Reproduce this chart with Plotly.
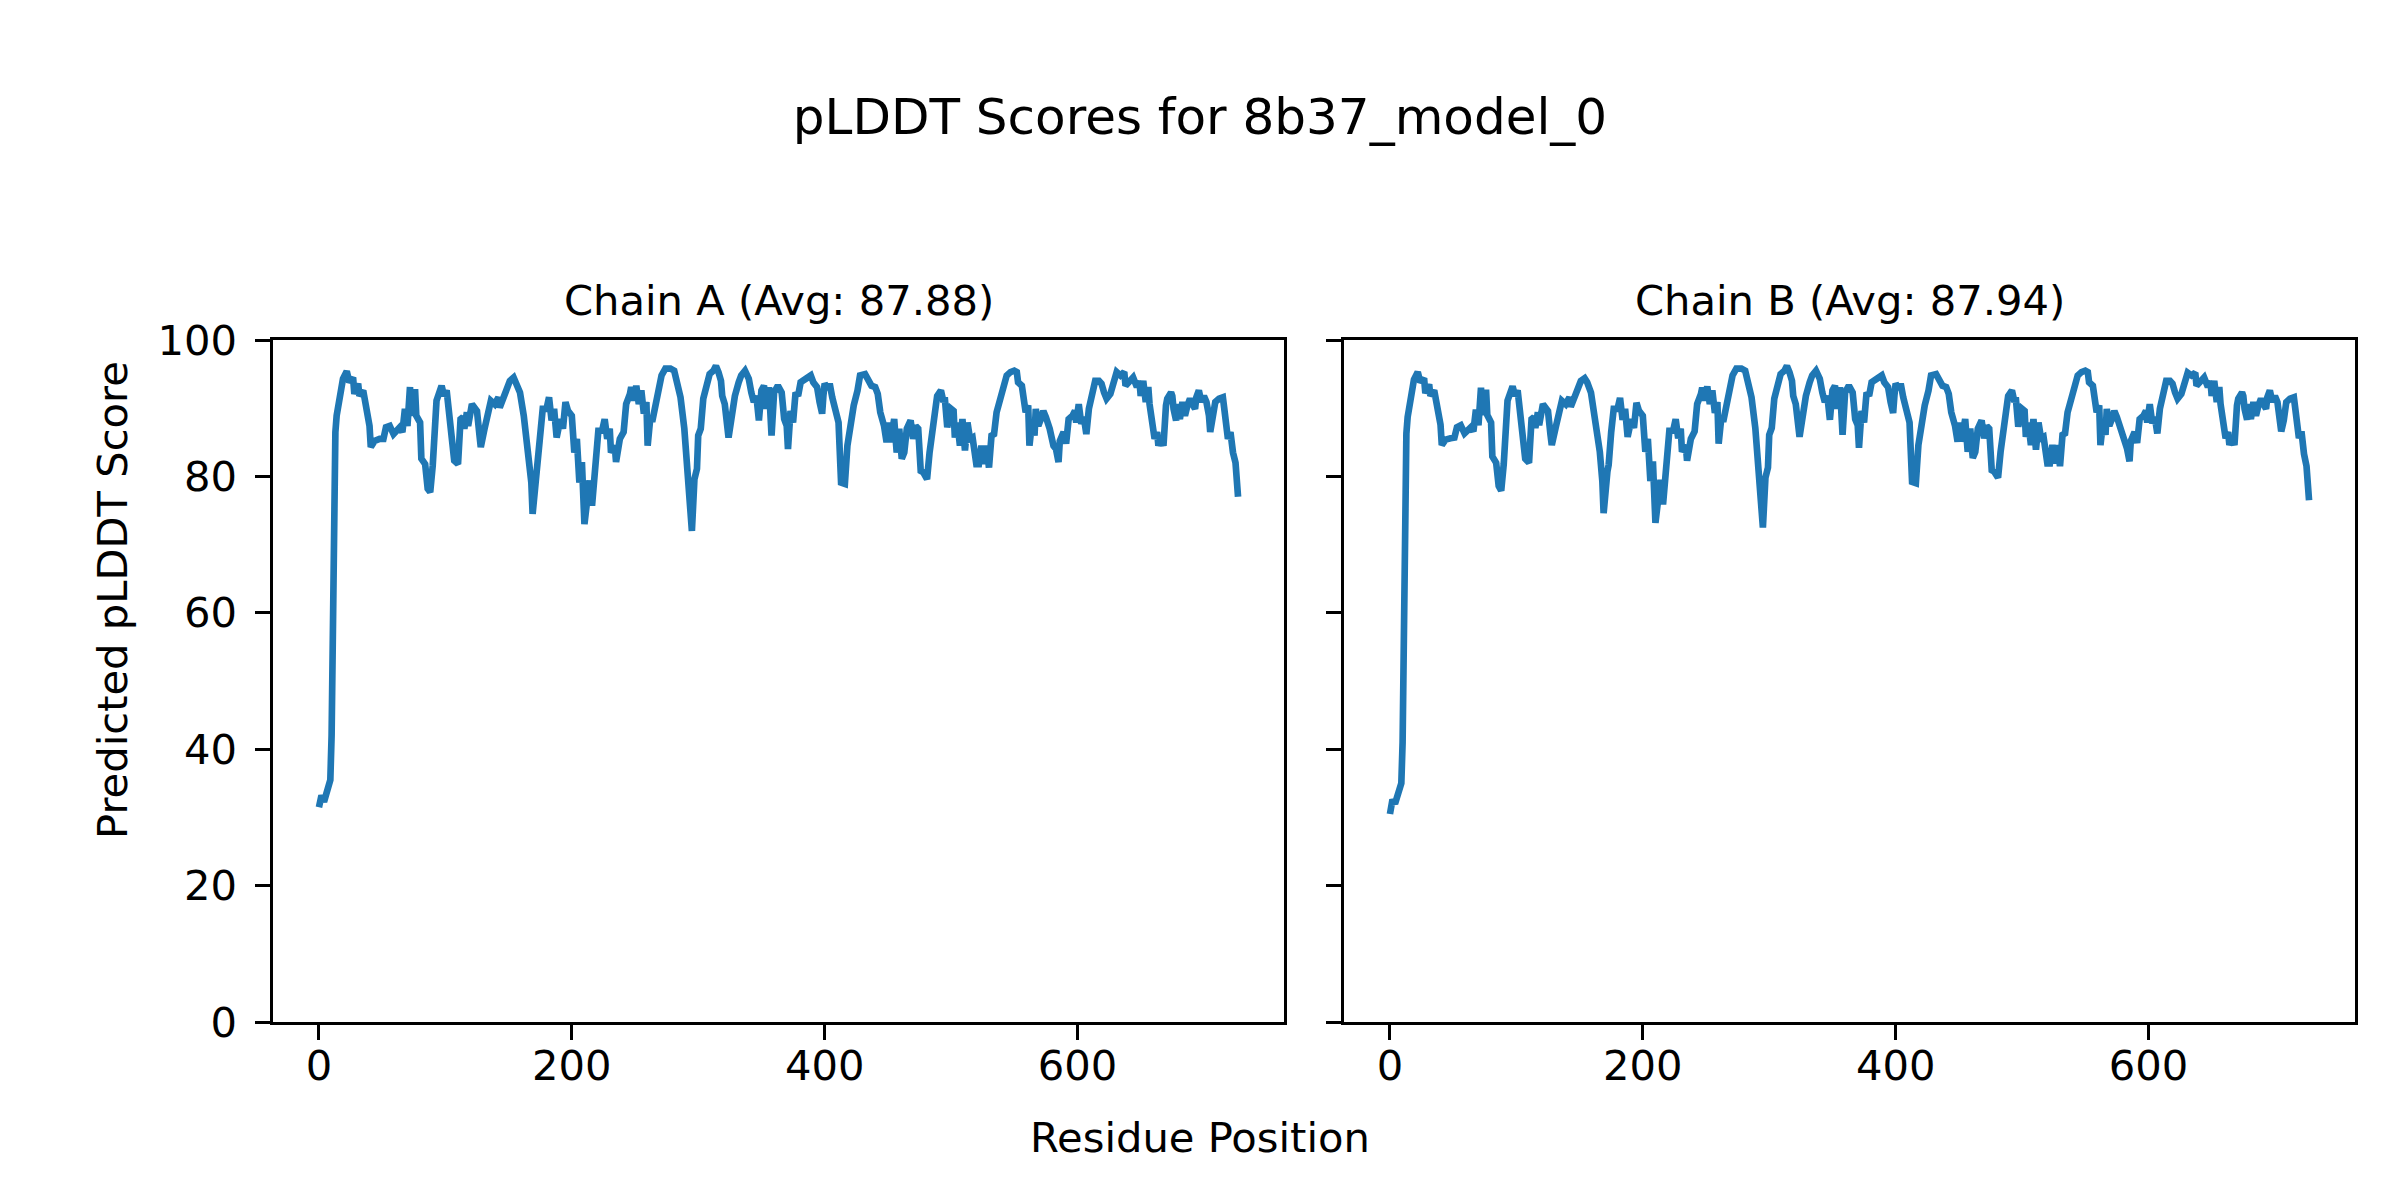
import plotly.graph_objects as go

# ---------------- data ----------------
chain_a_residue = [
    0, 2, 4, 7, 9, 10, 11, 12, 13, 14, 16, 19, 22, 24, 27, 28, 31, 32, 35, 37,
    40, 41, 44, 48, 51, 53, 56, 59, 61, 64, 66, 68, 70, 72, 73, 76, 77, 80, 81, 84,
    86, 88, 90, 92, 93, 97, 99, 101, 103, 106, 107, 110, 112, 114, 115, 117, 118, 121, 125, 127,
    128, 131, 134, 136, 139, 142, 143, 146, 149, 151, 154, 156, 159, 162, 164, 166, 168, 169, 172, 173,
    175, 177, 180, 182, 184, 186, 188, 191, 193, 195, 197, 200, 202, 204, 206, 208, 210, 212, 214, 216,
    218, 221, 224, 226, 228, 230, 231, 234, 235, 238, 241, 243, 246, 247, 249, 251, 253, 255, 257, 259,
    260, 262, 264, 267, 268, 271, 274, 278, 281, 283, 286, 289, 291, 293, 295, 297, 299, 300, 302, 304,
    307, 309, 312, 314, 316, 318, 319, 321, 324, 326, 329, 332, 334, 337, 340, 342, 344, 346, 348, 350,
    352, 354, 356, 358, 360, 363, 366, 368, 370, 371, 373, 375, 377, 379, 381, 385, 389, 391, 394, 396,
    398, 399, 400, 403, 404, 406, 408, 411, 413, 416, 418, 420, 423, 426, 428, 432, 435, 437, 440, 442,
    444, 447, 449, 451, 452, 455, 457, 459, 461, 463, 465, 468, 470, 472, 474, 476, 478, 481, 483, 485,
    487, 489, 492, 494, 495, 497, 500, 502, 503, 505, 507, 509, 511, 513, 515, 517, 520, 522, 524, 526,
    528, 530, 532, 534, 536, 538, 539, 542, 544, 547, 550, 552, 553, 556, 557, 559, 561, 562, 564, 566,
    567, 569, 571, 573, 575, 578, 581, 583, 585, 586, 589, 591, 593, 596, 598, 599, 601, 603, 605, 607,
    609, 612, 614, 617, 619, 621, 623, 626, 629, 631, 634, 637, 638, 641, 644, 647, 649, 650, 652, 654,
    656, 657, 659, 661, 663, 664, 666, 668, 670, 671, 674, 675, 676, 678, 679, 681, 683, 685, 687, 689,
    691, 693, 694, 696, 698, 700, 702, 704, 705, 707, 709, 712, 715, 716, 717, 719, 721, 722, 723, 725,
    727,
]
chain_a_plddt = [
    31.5, 33.2, 32.3, 33.9, 35.5, 42.0, 62.0, 80.0, 86.5, 88.9, 91.4, 94.3, 95.4, 93.8, 94.5, 92.1, 93.6, 91.8, 92.6, 90.4,
    87.4, 84.3, 85.2, 85.5, 85.5, 87.2, 87.4, 86.2, 86.5, 87.2, 86.5, 89.9, 87.4, 93.1, 88.9, 92.8, 88.9, 87.9, 82.6, 81.8,
    78.2, 77.7, 81.6, 86.5, 91.1, 93.3, 91.8, 92.6, 88.9, 83.3, 82.3, 81.8, 88.4, 88.7, 87.0, 89.4, 87.4, 90.6, 89.6, 86.0,
    84.3, 87.0, 89.6, 91.1, 90.6, 91.6, 90.1, 91.6, 92.8, 94.0, 94.5, 93.8, 92.3, 88.9, 85.5, 83.5, 79.1, 74.5, 80.6, 81.6,
    86.5, 89.9, 89.9, 91.6, 88.2, 89.9, 85.7, 88.4, 87.0, 90.9, 89.6, 88.9, 83.5, 85.5, 79.1, 82.1, 73.0, 76.7, 79.4, 75.7,
    81.6, 86.7, 86.7, 88.4, 85.5, 87.0, 83.5, 84.5, 82.1, 85.5, 86.5, 90.6, 92.1, 93.1, 91.1, 93.3, 90.6, 92.6, 89.2, 90.9,
    84.5, 88.4, 88.4, 91.6, 92.3, 94.8, 95.8, 95.8, 95.5, 94.0, 91.6, 87.0, 81.6, 75.2, 72.0, 79.6, 81.1, 86.0, 87.0, 91.4,
    93.8, 95.0, 95.5, 96.2, 95.3, 94.0, 91.8, 90.6, 85.7, 88.9, 91.8, 93.8, 94.8, 95.5, 94.3, 92.3, 90.9, 91.8, 88.2, 92.6,
    93.3, 89.9, 93.1, 86.0, 92.3, 93.3, 92.3, 88.4, 87.4, 84.0, 89.6, 87.9, 92.3, 91.8, 93.8, 94.3, 94.8, 93.8, 93.1, 90.9,
    89.2, 91.8, 93.6, 92.8, 93.6, 91.6, 89.9, 87.9, 79.1, 78.9, 84.5, 87.4, 90.4, 92.6, 94.8, 95.0, 94.0, 93.3, 93.1, 92.1,
    89.4, 87.4, 85.0, 87.9, 85.0, 88.4, 83.5, 87.0, 82.6, 83.5, 87.0, 88.2, 85.5, 87.4, 87.0, 80.8, 80.6, 79.6, 83.5, 87.0,
    89.4, 91.8, 92.6, 90.9, 91.6, 87.2, 89.9, 89.6, 85.7, 87.9, 84.5, 88.4, 83.8, 87.9, 85.5, 85.7, 81.8, 81.8, 84.5, 81.8,
    84.5, 81.3, 86.0, 86.2, 89.4, 90.6, 91.4, 93.8, 94.8, 95.3, 95.5, 95.3, 93.8, 93.3, 91.1, 89.4, 90.4, 84.5, 87.9, 86.0,
    89.9, 87.4, 88.4, 89.6, 88.7, 87.0, 84.5, 84.0, 82.1, 85.2, 86.5, 84.8, 88.4, 88.9, 89.6, 87.9, 90.6, 87.7, 88.7, 86.2,
    89.9, 92.3, 94.0, 94.0, 93.6, 92.3, 91.4, 92.1, 94.0, 95.3, 94.8, 95.3, 93.3, 94.0, 94.5, 93.1, 94.0, 91.8, 94.0, 90.9,
    93.1, 90.6, 87.9, 85.5, 86.5, 84.5, 85.5, 84.5, 90.4, 91.4, 92.3, 91.8, 89.9, 88.2, 90.6, 88.4, 90.9, 88.9, 90.4, 91.4,
    90.6, 89.9, 91.6, 92.6, 90.9, 91.8, 90.9, 88.9, 86.5, 88.2, 90.9, 91.4, 91.6, 90.1, 88.4, 85.5, 86.5, 84.5, 83.5, 82.0,
    77.0,
]

chain_b_residue = list(chain_a_residue)
chain_b_plddt = [
    30.5, 32.6, 32.0, 33.6, 35.0, 41.0, 61.0, 79.5, 86.3, 88.7, 91.3, 94.2, 95.3, 93.8, 94.4, 92.2, 93.5, 91.8, 92.6, 90.4,
    87.6, 84.6, 85.4, 85.6, 85.7, 87.2, 87.5, 86.3, 86.6, 87.2, 86.6, 89.8, 87.5, 93.0, 89.0, 92.7, 89.0, 87.9, 82.9, 82.0,
    78.6, 77.9, 81.8, 86.6, 91.1, 93.2, 91.8, 92.6, 89.0, 83.6, 82.6, 82.0, 88.4, 88.7, 87.1, 89.4, 87.5, 90.6, 89.6, 86.1,
    84.6, 87.1, 89.6, 91.1, 90.6, 91.6, 90.2, 91.6, 92.8, 94.0, 94.4, 93.8, 92.3, 89.0, 85.6, 83.6, 79.3, 74.6, 80.7, 81.7,
    86.5, 89.9, 89.9, 91.5, 88.3, 89.9, 85.8, 88.4, 87.1, 90.8, 89.6, 88.9, 83.6, 85.5, 79.3, 82.2, 73.2, 76.9, 79.5, 75.9,
    81.7, 86.7, 86.7, 88.4, 85.6, 87.0, 83.6, 84.6, 82.3, 85.5, 86.6, 90.6, 92.1, 93.0, 91.1, 93.2, 90.6, 92.6, 89.3, 90.9,
    84.8, 88.4, 88.4, 91.6, 92.3, 94.8, 95.8, 95.8, 95.5, 94.0, 91.6, 87.1, 81.8, 75.6, 72.5, 79.8, 81.3, 86.1, 87.1, 91.4,
    93.8, 95.0, 95.5, 96.2, 95.3, 94.0, 91.8, 90.6, 85.8, 88.9, 91.8, 93.8, 94.8, 95.5, 94.3, 92.3, 90.9, 91.8, 88.3, 92.6,
    93.3, 89.9, 93.1, 86.1, 92.3, 93.3, 92.3, 88.4, 87.5, 84.2, 89.6, 87.9, 92.3, 91.8, 93.8, 94.3, 94.8, 93.8, 93.1, 90.9,
    89.3, 91.8, 93.6, 92.8, 93.6, 91.6, 89.9, 87.9, 79.2, 79.0, 84.6, 87.4, 90.4, 92.6, 94.8, 95.0, 94.0, 93.3, 93.1, 92.1,
    89.4, 87.4, 85.1, 87.9, 85.1, 88.4, 83.6, 87.0, 82.7, 83.6, 87.0, 88.2, 85.6, 87.4, 87.0, 80.9, 80.7, 79.8, 83.6, 87.0,
    89.4, 91.8, 92.6, 90.9, 91.6, 87.3, 89.9, 89.6, 85.8, 87.9, 84.6, 88.4, 83.9, 87.9, 85.6, 85.8, 81.9, 81.9, 84.6, 81.9,
    84.6, 81.5, 86.1, 86.3, 89.4, 90.6, 91.4, 93.8, 94.8, 95.3, 95.5, 95.3, 93.8, 93.3, 91.1, 89.4, 90.4, 84.6, 87.9, 86.1,
    89.9, 87.4, 88.4, 89.6, 88.7, 87.0, 84.6, 84.1, 82.2, 85.2, 86.5, 84.9, 88.4, 88.9, 89.6, 87.9, 90.6, 87.8, 88.7, 86.3,
    89.9, 92.3, 94.0, 94.0, 93.6, 92.3, 91.4, 92.1, 94.0, 95.2, 94.8, 95.2, 93.3, 94.0, 94.5, 93.1, 94.0, 91.8, 94.0, 90.9,
    93.1, 90.6, 87.9, 85.6, 86.5, 84.6, 85.5, 84.6, 90.4, 91.4, 92.3, 91.8, 89.9, 88.3, 90.6, 88.4, 90.9, 88.9, 90.4, 91.4,
    90.6, 89.9, 91.6, 92.6, 90.9, 91.8, 90.9, 88.9, 86.6, 88.2, 90.9, 91.4, 91.6, 90.1, 88.4, 85.6, 86.6, 84.6, 83.3, 81.5,
    76.5,
]

chain_labels = ["Chain A (Avg: 87.88)", "Chain B (Avg: 87.94)"]
main_title = "pLDDT Scores for 8b37_model_0"
x_label = "Residue Position"
y_label = "Predicted pLDDT Score"
x_ticks = [0, 200, 400, 600]
y_ticks = [0, 20, 40, 60, 80, 100]

# ---------------- figure ----------------
W, H = 2400, 1200
L, R, T, B = 273, 45, 340, 178
plot_w = W - L - R
FONT = "DejaVu Sans"
PT = 300 / 72.0
LINE_COLOR = "#1f77b4"

ax_a_left, ax_a_right = 273, 1284
ax_b_left, ax_b_right = 1344, 2355
dom_a = [(ax_a_left - L) / plot_w, (ax_a_right - L) / plot_w]
dom_b = [(ax_b_left - L) / plot_w, (ax_b_right - L) / plot_w]

fig = go.Figure()
fig.add_trace(go.Scatter(x=chain_a_residue, y=chain_a_plddt, mode="lines",
                         line=dict(color=LINE_COLOR, width=1.6 * PT), xaxis="x", yaxis="y",
                         showlegend=False))
fig.add_trace(go.Scatter(x=chain_b_residue, y=chain_b_plddt, mode="lines",
                         line=dict(color=LINE_COLOR, width=1.6 * PT), xaxis="x2", yaxis="y2",
                         showlegend=False))

def xrange(vals):
    lo, hi = min(vals), max(vals)
    pad = 0.05 * (hi - lo)
    return [lo - pad, hi + pad]

axis_common = dict(
    showline=True, linewidth=0.8 * PT, linecolor="black", mirror=True,
    ticks="outside", ticklen=3.5 * PT, tickwidth=0.8 * PT, tickcolor="black",
    showgrid=False, zeroline=False,
    tickfont=dict(family=FONT, size=10 * PT, color="black"),
)

fig.update_layout(
    width=W, height=H,
    margin=dict(l=L, r=R, t=T, b=B, pad=0),
    paper_bgcolor="white", plot_bgcolor="white",
    font=dict(family=FONT, color="black"),
    xaxis=dict(domain=dom_a, range=xrange(chain_a_residue), tickvals=x_ticks,
               anchor="y", ticklabelstandoff=-10, **axis_common),
    yaxis=dict(domain=[0, 1], range=[0, 100], tickvals=y_ticks, anchor="x",
               ticklabelstandoff=10, **axis_common),
    xaxis2=dict(domain=dom_b, range=xrange(chain_b_residue), tickvals=x_ticks,
                anchor="y2", ticklabelstandoff=-10, **axis_common),
    yaxis2=dict(domain=[0, 1], range=[0, 100], tickvals=y_ticks, anchor="x2",
                showticklabels=False, matches="y", **axis_common),
    title=dict(text=main_title, x=1200 / W, xanchor="center", xref="container",
               y=1 - 116 / H, yanchor="middle", yref="container",
               font=dict(family=FONT, size=12 * PT, color="black")),
)

annotations = []
for label, dom in zip(chain_labels, [dom_a, dom_b]):
    annotations.append(dict(
        text=label, x=(dom[0] + dom[1]) / 2, y=1, xref="paper", yref="paper",
        xanchor="center", yanchor="middle", yshift=40, showarrow=False,
        font=dict(family=FONT, size=10 * PT, color="black")))
annotations.append(dict(
    text=x_label, x=(1200 - L) / plot_w, y=0, xref="paper", yref="paper",
    xanchor="center", yanchor="middle", yshift=-(1137 - (H - B)), showarrow=False,
    font=dict(family=FONT, size=10 * PT, color="black")))
annotations.append(dict(
    text=y_label, x=(112 - L) / plot_w, y=((H - B) - 600) / (H - B - T),
    xref="paper", yref="paper", xanchor="center", yanchor="middle",
    textangle=-90, showarrow=False,
    font=dict(family=FONT, size=10 * PT, color="black")))
fig.update_layout(annotations=annotations)

fig.write_html("out.html", config={"displayModeBar": False},
               post_script="document.body.style.margin='0';document.body.style.overflow='hidden';")
